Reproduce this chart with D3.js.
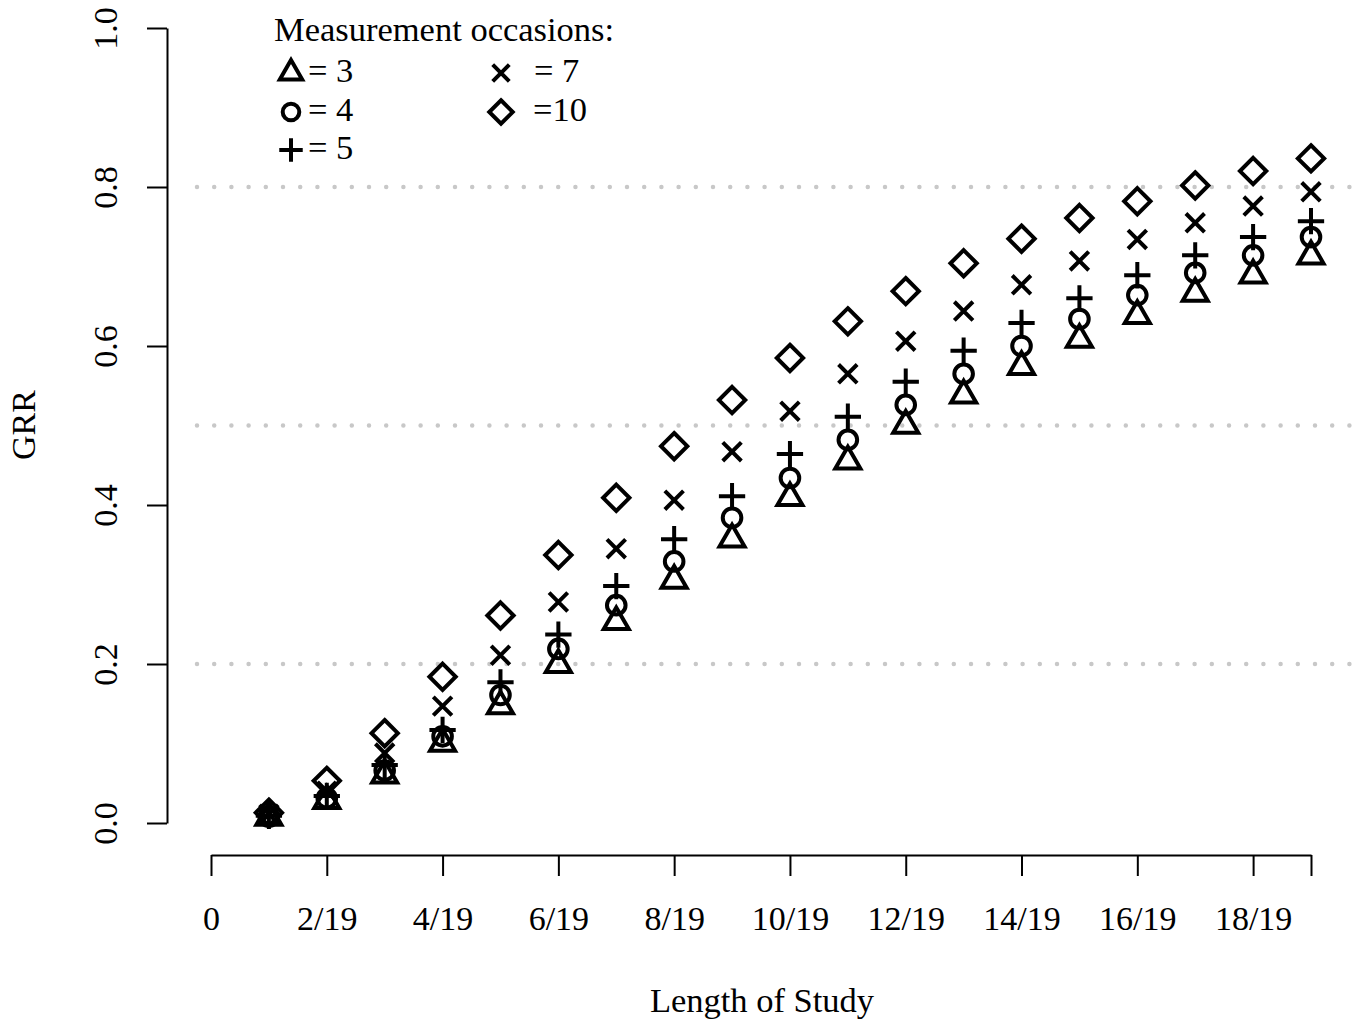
<!DOCTYPE html>
<html>
<head>
<meta charset="utf-8">
<script src="https://cdn.jsdelivr.net/npm/d3@7"></script>
<style>
  html, body { margin: 0; padding: 0; background: #fff; }
  text { font-family: "Liberation Serif", "Times New Roman", serif; fill: #000; }
</style>
</head>
<body>
<svg id="chart" width="1369" height="1023"></svg>
<script>
// ---- data ----
const studyLength = d3.range(1, 20).map(k => k / 19);   // 1/19 ... 19/19
const occasions = ["= 3", "= 4", "= 5", "= 7", "=10"];
const grr3  = [0.007, 0.028, 0.060, 0.100, 0.147, 0.199, 0.253, 0.305, 0.357, 0.409, 0.455, 0.500, 0.538, 0.574, 0.608, 0.638, 0.666, 0.689, 0.713];
const grr4  = [0.008, 0.031, 0.066, 0.109, 0.161, 0.219, 0.274, 0.329, 0.384, 0.434, 0.482, 0.526, 0.565, 0.600, 0.634, 0.664, 0.692, 0.714, 0.737];
const grr5  = [0.009, 0.034, 0.073, 0.117, 0.177, 0.237, 0.298, 0.357, 0.411, 0.464, 0.511, 0.555, 0.594, 0.629, 0.660, 0.689, 0.714, 0.737, 0.757];
const grr7  = [0.011, 0.040, 0.088, 0.147, 0.211, 0.278, 0.345, 0.406, 0.467, 0.518, 0.565, 0.606, 0.644, 0.677, 0.707, 0.734, 0.755, 0.776, 0.794];
const grr10 = [0.013, 0.053, 0.113, 0.184, 0.261, 0.337, 0.409, 0.474, 0.532, 0.585, 0.631, 0.669, 0.704, 0.735, 0.761, 0.782, 0.802, 0.820, 0.836];
const xTickValues = d3.range(0, 20).filter(k => k % 2 === 0 || k === 19).map(k => k / 19);
const xTickLabels = ["0", "2/19", "4/19", "6/19", "8/19", "10/19", "12/19", "14/19", "16/19", "18/19", ""];
const yTickValues = [0, 0.2, 0.4, 0.6, 0.8, 1.0];
const yTickLabels = ["0.0", "0.2", "0.4", "0.6", "0.8", "1.0"];
const refLines = [0.2, 0.5, 0.8];

// ---- setup ----
const svg = d3.select("#chart");
const x = d3.scaleLinear().domain([0, 1]).range([211, 1311]);
const y = d3.scaleLinear().domain([0, 1]).range([823, 28]);
const FS = 34;
const R = 9.3;
const SW = 4;

// symbol generators (R pch style)
const shapes = {
  tri: (cx, cy, r) => {
    const t0 = 1.5551 * r, t1 = 1.3468 * r, t2 = 0.7776 * r;
    return `M${cx},${cy - t0}L${cx + t1},${cy + t2}L${cx - t1},${cy + t2}Z`;
  },
  circ: (cx, cy, r) => `M${cx - r},${cy}A${r},${r} 0 1,0 ${cx + r},${cy}A${r},${r} 0 1,0 ${cx - r},${cy}Z`,
  plus: (cx, cy, r) => { const a = 1.414 * r; return `M${cx - a},${cy}H${cx + a}M${cx},${cy - a}V${cy + a}`; },
  cross: (cx, cy, r) => `M${cx - r},${cy - r}L${cx + r},${cy + r}M${cx - r},${cy + r}L${cx + r},${cy - r}`,
  diam: (cx, cy, r) => { const a = 1.414 * r; return `M${cx},${cy - a}L${cx + a},${cy}L${cx},${cy + a}L${cx - a},${cy}Z`; }
};
const series = [
  { name: occasions[0], values: grr3, shape: "tri" },
  { name: occasions[1], values: grr4, shape: "circ" },
  { name: occasions[2], values: grr5, shape: "plus" },
  { name: occasions[3], values: grr7, shape: "cross" },
  { name: occasions[4], values: grr10, shape: "diam" }
];

// reference lines
svg.append("g").selectAll("line").data(refLines).join("line")
  .attr("x1", 197).attr("x2", 1355)
  .attr("y1", d => y(d)).attr("y2", d => y(d))
  .attr("stroke", "#c8c8c8").attr("stroke-width", 4.5)
  .attr("stroke-linecap", "round").attr("stroke-dasharray", "0 17.2");

// x axis
const xAxis = d3.axisBottom(x).tickValues(xTickValues)
  .tickFormat((d, i) => xTickLabels[i]).tickSize(21).tickSizeOuter(0).tickPadding(30);
const gx = svg.append("g").attr("transform", "translate(0,855)").call(xAxis);
gx.select(".domain").attr("stroke", "#000").attr("stroke-width", 2);
gx.selectAll(".tick line").attr("stroke", "#000").attr("stroke-width", 2);
gx.selectAll(".tick text").attr("font-size", FS).attr("font-family", "Liberation Serif").attr("fill", "#000");

// y axis
const yAxis = d3.axisLeft(y).tickValues(yTickValues)
  .tickFormat((d, i) => yTickLabels[i]).tickSize(20).tickSizeOuter(0);
const gy = svg.append("g").attr("transform", "translate(167,0)").call(yAxis);
gy.select(".domain").attr("stroke", "#000").attr("stroke-width", 2);
gy.selectAll(".tick line").attr("stroke", "#000").attr("stroke-width", 2);
gy.selectAll(".tick text")
  .attr("font-size", FS).attr("font-family", "Liberation Serif").attr("fill", "#000")
  .attr("x", null).attr("dy", null)
  .attr("text-anchor", "middle")
  .attr("transform", "translate(-50,0) rotate(-90)");

// axis titles
svg.append("text").attr("x", 762).attr("y", 1012).attr("text-anchor", "middle")
  .attr("font-size", FS + 0.5).text("Length of Study");
svg.append("text").attr("transform", "translate(35,425) rotate(-90)").attr("text-anchor", "middle")
  .attr("font-size", FS).text("GRR");

// points
series.forEach(s => {
  svg.append("g").selectAll("path").data(s.values).join("path")
    .attr("d", (v, i) => shapes[s.shape](x(studyLength[i]), y(v), R))
    .attr("fill", "none").attr("stroke", "#000").attr("stroke-width", SW)
    .attr("stroke-linejoin", "miter");
});

// legend
const lg = svg.append("g");
lg.append("text").attr("x", 274).attr("y", 41).attr("font-size", FS + 0.5).text("Measurement occasions:");
const legendPos = [
  { sx: 291, tx: 308, y: 73 },
  { sx: 291, tx: 308, y: 112 },
  { sx: 291, tx: 308, y: 150 },
  { sx: 501, tx: 534, y: 73 },
  { sx: 501, tx: 533, y: 112 }
];
series.forEach((s, i) => {
  const p = legendPos[i];
  lg.append("path").attr("d", shapes[s.shape](p.sx, p.y, 8.3))
    .attr("fill", "none").attr("stroke", "#000").attr("stroke-width", SW);
  lg.append("text").attr("x", p.tx).attr("y", p.y + 9).attr("font-size", FS + 0.5).text(s.name);
});
</script>
</body>
</html>
